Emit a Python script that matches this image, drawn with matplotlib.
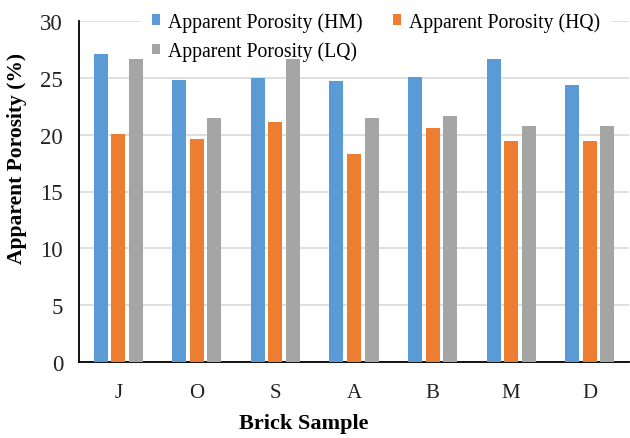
import matplotlib
matplotlib.use("Agg")
import matplotlib.pyplot as plt
import numpy as np

samples = ["J", "O", "S", "A", "B", "M", "D"]
porosity_hm = [27.1, 24.8, 25.0, 24.7, 25.1, 26.7, 24.4]
porosity_hq = [20.1, 19.6, 21.1, 18.3, 20.6, 19.4, 19.4]
porosity_lq = [26.7, 21.5, 26.7, 21.5, 21.6, 20.8, 20.8]
series_names = ["Apparent Porosity (HM)", "Apparent Porosity (HQ)", "Apparent Porosity (LQ)"]
colors = ["#5B9BD5", "#ED7D31", "#A5A5A5"]

plt.rcParams["font.family"] = ["Liberation Serif", "DejaVu Serif"]

fig = plt.figure(figsize=(6.3, 4.39), dpi=100)
ax = fig.add_axes([79 / 630, 1 - 363 / 439, 550 / 630, 341 / 439])

x = np.arange(len(samples))
step = 0.223
width = 0.178
bars = []
for i, (vals, name, c) in enumerate(zip([porosity_hm, porosity_hq, porosity_lq], series_names, colors)):
    b = ax.bar(x + (i - 1) * step, vals, width=width, color=c, label=name, zorder=3)
    bars.append(b)

ax.set_xlim(-0.5, len(samples) - 0.5)
ax.set_ylim(0, 30)
ax.set_yticks(np.arange(0, 31, 5))
ax.set_xticks(x)
ax.set_xticklabels(samples)
ax.tick_params(axis="both", length=0, colors="#222222")
ax.tick_params(axis="y", pad=11.5, labelsize=16.5)
ax.tick_params(axis="x", pad=15, labelsize=15)
ax.grid(axis="y", color="#d9d9d9", linewidth=1.2, zorder=0)
ax.set_axisbelow(True)
for s in ["top", "right"]:
    ax.spines[s].set_visible(False)
for s in ["left", "bottom"]:
    ax.spines[s].set_color("black")
    ax.spines[s].set_linewidth(1.3)

ax.set_ylabel("Apparent Porosity (%)", fontsize=15.5, fontweight="bold")
ax.yaxis.set_label_coords((27 - 79) / 550, (363 - 158) / 341)
fig.text(304 / 630, 1 - 424 / 439, "Brick Sample", fontsize=16, fontweight="bold",
         ha="center", va="center")

handles = [bars[0], bars[2], bars[1]]
labels = [series_names[0], series_names[2], series_names[1]]
leg = ax.legend(handles, labels, ncol=2, loc="upper left",
                bbox_to_anchor=(141 / 630, 1 - 2 / 439), bbox_transform=fig.transFigure,
                fontsize=14.2, frameon=True, fancybox=False, framealpha=1,
                edgecolor="none", facecolor="white", handlelength=0.42, handleheight=0.42,
                handletextpad=0.4, columnspacing=1.55, labelspacing=0.48,
                borderaxespad=0, borderpad=0.55)
# keep the legend box above the gridlines but beneath the bars
leg.set_zorder(2.5)

fig.savefig("out.png", dpi=100)
